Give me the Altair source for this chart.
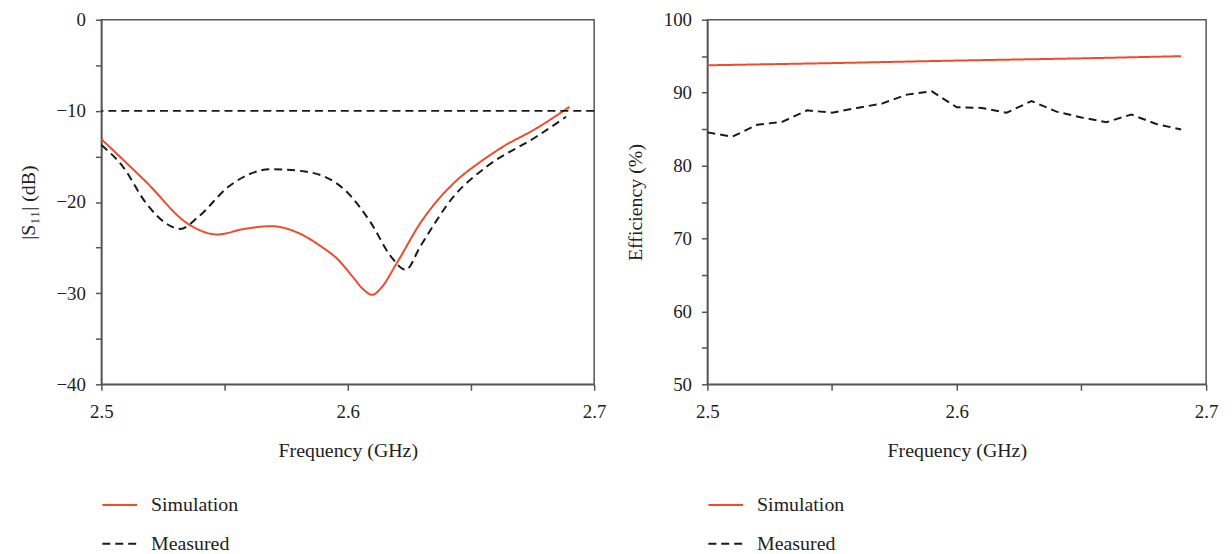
import altair as alt
import pandas as pd

# ---------------- data ----------------
series_names = ["Simulation", "Measured"]

s11_sim_f = [2.5, 2.518, 2.5356, 2.547, 2.558, 2.569, 2.58, 2.589, 2.596, 2.602, 2.606, 2.610,
             2.613, 2.620, 2.6295, 2.643, 2.654, 2.663, 2.6765, 2.69]
s11_sim_v = [-13.1, -17.75, -22.47, -23.56, -22.95, -22.65, -23.4, -24.84, -26.3, -28.2, -29.5, -30.18,
             -29.6, -26.65, -22.29, -17.93, -15.56, -13.93, -11.93, -9.56]

s11_meas_f = [2.5, 2.5087, 2.5181, 2.526, 2.532, 2.5396, 2.5517, 2.5691, 2.5826, 2.5987,
              2.6094, 2.6174, 2.6235, 2.6295, 2.643, 2.6564, 2.6765, 2.6886]
s11_meas_v = [-13.75, -16.11, -20.11, -22.3, -22.95, -21.56, -18.29, -16.4, -16.65, -18.65,
              -22.29, -25.93, -27.45, -24.84, -19.38, -16.11, -12.84, -10.65]

threshold_db = [-10]

eff_sim_f = [2.5, 2.55, 2.6, 2.65, 2.69]
eff_sim_v = [93.75, 94.05, 94.4, 94.7, 95.0]

eff_meas_f = [2.50, 2.51, 2.52, 2.53, 2.54, 2.55, 2.56, 2.57, 2.58, 2.59,
              2.60, 2.61, 2.62, 2.63, 2.64, 2.65, 2.66, 2.67, 2.68, 2.69]
eff_meas_v = [84.55, 83.96, 85.6, 86.0, 87.57, 87.25, 87.9, 88.5, 89.73, 90.18,
              88.0, 87.9, 87.25, 88.85, 87.4, 86.6, 85.95, 87.0, 85.7, 84.95]

x_tick_values = [2.5, 2.55, 2.6, 2.65, 2.7]
s11_tick_values = [-40, -35, -30, -25, -20, -15, -10, -5, 0]
eff_tick_values = [50, 55, 60, 65, 70, 75, 80, 85, 90, 95, 100]

# ---------------- styling ----------------
RED = "#ee4b2b"
BLACK = "#1a1a1a"
FONT = "Liberation Serif"
AXIS_GREY = "#555555"

s11_df = pd.DataFrame({
    "f": s11_sim_f + s11_meas_f,
    "v": s11_sim_v + s11_meas_v,
    "series": ["Simulation"] * len(s11_sim_f) + ["Measured"] * len(s11_meas_f),
})
eff_df = pd.DataFrame({
    "f": eff_sim_f + eff_meas_f,
    "v": eff_sim_v + eff_meas_v,
    "series": ["Simulation"] * len(eff_sim_f) + ["Measured"] * len(eff_meas_f),
})
thr_df = pd.DataFrame({"v": threshold_db})

legend = alt.Legend(
    title=None, orient="none", legendX=0, legendY=470,
    symbolType="stroke", symbolSize=1225, symbolStrokeWidth=2,
    labelFont=FONT, labelFontSize=20, labelColor="#222222",
    labelOffset=13, rowPadding=10,
)

color_enc = alt.Color("series:N",
                      scale=alt.Scale(domain=series_names, range=[RED, BLACK]),
                      legend=legend)
dash_enc = alt.StrokeDash("series:N",
                          scale=alt.Scale(domain=series_names, range=[[1, 0], [8, 5]]),
                          legend=legend)

x_axis = alt.Axis(
    values=x_tick_values, format=".1f",
    labelExpr="abs(datum.value*10 - round(datum.value*10)) < 0.001 ? datum.label : ''",
    labelFlush=False,
    title="Frequency (GHz)", titlePadding=20, labelPadding=12,
)


def panel(df, ydomain, yvalues, ytitle, interp, width, extra=None):
    y_axis = alt.Axis(values=yvalues, format="d",
                      labelExpr="datum.value % 10 == 0 ? datum.label : ''",
                      labelFlush=False,
                      title=ytitle, titlePadding=18, labelPadding=10)
    lines = alt.Chart(df).mark_line(strokeWidth=2, interpolate=interp).encode(
        x=alt.X("f:Q", scale=alt.Scale(domain=[2.5, 2.7], nice=False), axis=x_axis),
        y=alt.Y("v:Q", scale=alt.Scale(domain=ydomain, nice=False), axis=y_axis),
        color=color_enc,
        strokeDash=dash_enc,
        order=alt.Order("f:Q"),
    )
    layers = [lines]
    if extra is not None:
        layers.append(extra)
    return alt.layer(*layers).properties(width=width, height=367)


thr = alt.Chart(thr_df).mark_rule(color=BLACK, strokeWidth=2, strokeDash=[8, 5]).encode(
    y=alt.Y("v:Q")
)

left = panel(s11_df, [-40, 0], s11_tick_values, "|S₁₁| (dB)", "monotone", 496, thr)
right = panel(eff_df, [50, 100], eff_tick_values, "Efficiency (%)", "linear", 502)

chart = alt.hconcat(left, right, spacing=17).resolve_scale(
    color="independent", strokeDash="independent"
).resolve_legend(color="independent", strokeDash="independent").configure(
    padding={"left": 9, "top": 0, "right": 5, "bottom": 0},
    background="white",
).configure_view(
    stroke=AXIS_GREY, strokeWidth=1.5
).configure_axis(
    grid=False, domainColor=AXIS_GREY, domainWidth=1.5, tickColor=AXIS_GREY,
    tickWidth=1.5, tickSize=6,
    labelFont=FONT, labelFontSize=19, labelColor="#222222",
    titleFont=FONT, titleFontSize=20, titleFontWeight="normal", titleColor="#222222",
)

chart.save("out.html", embed_options={"renderer": "svg", "actions": False})
